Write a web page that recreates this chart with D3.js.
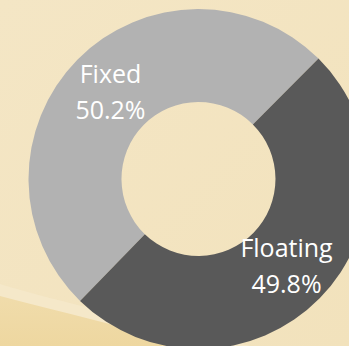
<!DOCTYPE html>
<html>
<head>
<meta charset="utf-8">
<script src="https://cdn.jsdelivr.net/npm/d3@7"></script>
<style>
  html, body { margin: 0; padding: 0; background: #f3e5c2; }
  svg { display: block; }
</style>
</head>
<body>
<svg id="chart" width="349" height="346"></svg>
<script>
// Share of debt by interest type
const categories = ["Fixed", "Floating"];
const shares = [50.2, 49.8];
const labels = ["50.2%", "49.8%"];
const colors = ["#b2b2b2", "#595959"];

const width = 349, height = 346;
const cx = 198.5, cy = 179;
const outerR = 170, innerR = 77;

const svg = d3.select("#chart");

// Paper-like beige backdrop with a darker tan sweep at the lower left
const defs = svg.append("defs");
const bg = defs.append("linearGradient").attr("id", "bg")
  .attr("x1", "0").attr("y1", "0").attr("x2", "1").attr("y2", "1");
bg.append("stop").attr("offset", "0").attr("stop-color", "#f4e6c5");
bg.append("stop").attr("offset", "1").attr("stop-color", "#f2e2bc");
svg.append("rect").attr("width", width).attr("height", height).attr("fill", "url(#bg)");

const sweep = defs.append("linearGradient").attr("id", "sweep")
  .attr("x1", "0").attr("y1", "0").attr("x2", "0").attr("y2", "1");
sweep.append("stop").attr("offset", "0").attr("stop-color", "#f0dcab");
sweep.append("stop").attr("offset", "1").attr("stop-color", "#eed7a0");

svg.append("path")
  .attr("d", "M0,284 C60,302 140,320 250,346 L0,346 Z")
  .attr("fill", "#f5e8ca").attr("opacity", 0.8);
svg.append("path")
  .attr("d", "M0,296 C60,312 130,328 190,346 L0,346 Z")
  .attr("fill", "url(#sweep)");

// Donut
const startDeg = 44.9 - 360 * shares[0] / 100;
const pie = d3.pie().sort(null).value(d => d)
  .startAngle(startDeg * Math.PI / 180)
  .endAngle((startDeg + 360) * Math.PI / 180);
const arc = d3.arc().innerRadius(innerR).outerRadius(outerR);
const labelArc = d3.arc().innerRadius((innerR + outerR) / 2).outerRadius((innerR + outerR) / 2);

const g = svg.append("g").attr("transform", `translate(${cx},${cy})`);
const arcs = pie(shares);

g.selectAll("path.slice")
  .data(arcs)
  .join("path")
  .attr("class", "slice")
  .attr("d", arc)
  .attr("fill", (d, i) => colors[i]);

const text = g.selectAll("text.label")
  .data(arcs)
  .join("text")
  .attr("class", "label")
  .attr("transform", d => `translate(${labelArc.centroid(d)})`)
  .attr("text-anchor", "middle")
  .attr("fill", "#ffffff")
  .style("font-family", "'Open Sans', 'Noto Sans', sans-serif")
  .style("font-size", "25px");

text.append("tspan").attr("x", 0).attr("y", -9).text((d, i) => categories[i]);
text.append("tspan").attr("x", 0).attr("y", 27).text((d, i) => labels[i]);
</script>
</body>
</html>
